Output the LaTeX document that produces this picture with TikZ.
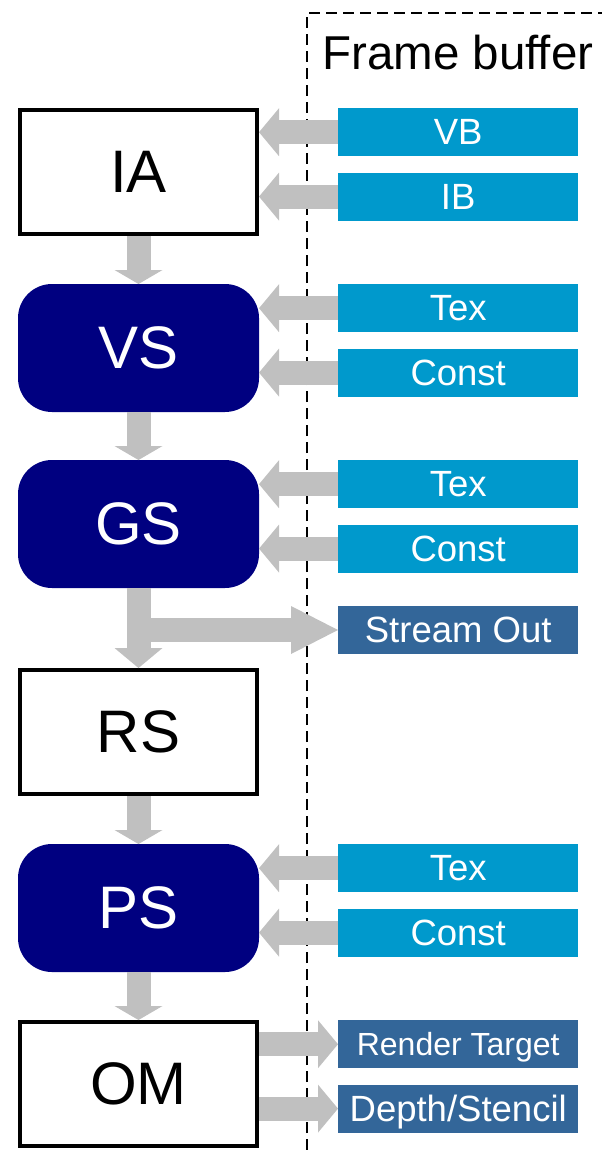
\documentclass[tikz,border=0pt]{standalone}
\usepackage{fontspec}
\setmainfont{Liberation Sans}
\usepackage{xcolor}
\usetikzlibrary{arrows.meta, positioning}
\definecolor{fbblue}{RGB}{0,153,204}
\definecolor{outblue}{RGB}{51,102,153}
\definecolor{stagenavy}{RGB}{0,0,128}
\definecolor{pipegray}{RGB}{192,192,192}

\begin{document}
\begin{tikzpicture}[x=1pt, y=-1pt,
    stage/.style={draw, line width=4pt, minimum width=237pt, minimum height=124pt,
                  inner sep=0pt, font=\fontsize{60}{60}\selectfont},
    fixed/.style={stage, fill=white},
    shader/.style={stage, draw=stagenavy, fill=stagenavy, text=white, rounded corners=32pt},
    buf/.style={fill=fbblue, text=white, minimum width=240pt, minimum height=48pt,
                inner sep=0pt, text depth=0pt, font=\fontsize{36.5}{36.5}\selectfont},
    outbuf/.style={buf, fill=outblue},
    pipe/.style={draw=pipegray, line width=24pt,
                 -{Triangle[length=#1, width=48pt, line width=0pt]}},
    pipe/.default=20pt]
  \useasboundingbox (0,0) rectangle (602,1150);
  \coordinate (fbtop) at (602,13); \coordinate (fbcorner) at (307,13);
  \coordinate (fbbottom) at (307,1150);
  \draw[line width=1.5pt, dash pattern=on 11pt off 6pt] (fbbottom) -- (fbcorner) -- (fbtop);
  \node[anchor=base west, inner sep=0pt, font=\fontsize{47.5}{47.5}\selectfont] (fblabel)
        at (322,70) {Frame buffer};

  \node[fixed] (ia) at (138.5,172) {IA};
  \node[shader, below=48pt of ia] (vs) {VS};
  \node[shader, below=48pt of vs] (gs) {GS};
  \node[fixed, below=80pt of gs]  (rs) {RS};
  \node[shader, below=48pt of rs] (ps) {PS};
  \node[fixed, below=48pt of ps]  (om) {OM};

  \node[buf, right=79pt of ia.north east, anchor=north west] (vb) {VB};
  \node[buf, below=16pt of vb] (ib) {IB};
  \node[buf, right=79pt of vs.north east, anchor=north west] (vstex) {Tex};
  \node[buf, below=16pt of vstex] (vsconst) {Const};
  \node[buf, right=79pt of gs.north east, anchor=north west] (gstex) {Tex};
  \node[buf, below=16pt of gstex] (gsconst) {Const};
  \node[outbuf, below=33pt of gsconst] (so) {Stream Out};
  \node[buf, right=79pt of ps.north east, anchor=north west] (pstex) {Tex};
  \node[buf, below=16pt of pstex] (psconst) {Const};
  \node[outbuf, right=79pt of om.north east, anchor=north west,
        font=\fontsize{32}{32}\selectfont] (rt) {Render Target};
  \node[outbuf, below=16pt of rt] (ds) {Depth/Stencil};

  \draw[pipe=14pt] (ia) -- (vs); \draw[pipe=14pt] (vs) -- (gs);
  \draw[pipe] (gs) -- (rs);
  \draw[pipe=47pt] (gs.south |- so.west) -- (so.west);
  \draw[pipe=14pt] (rs) -- (ps); \draw[pipe=14pt] (ps) -- (om);
  \draw[pipe] (vb.west) -- (vb.west -| ia.east);
  \draw[pipe] (ib.west) -- (ib.west -| ia.east);
  \draw[pipe] (vstex.west) -- (vstex.west -| vs.east);
  \draw[pipe] (vsconst.west) -- (vsconst.west -| vs.east);
  \draw[pipe] (gstex.west) -- (gstex.west -| gs.east);
  \draw[pipe] (gsconst.west) -- (gsconst.west -| gs.east);
  \draw[pipe] (pstex.west) -- (pstex.west -| ps.east);
  \draw[pipe] (psconst.west) -- (psconst.west -| ps.east);
  \draw[pipe] (om.east |- rt.west) -- (rt.west);
  \draw[pipe] (om.east |- ds.west) -- (ds.west);
\end{tikzpicture}
\end{document}
